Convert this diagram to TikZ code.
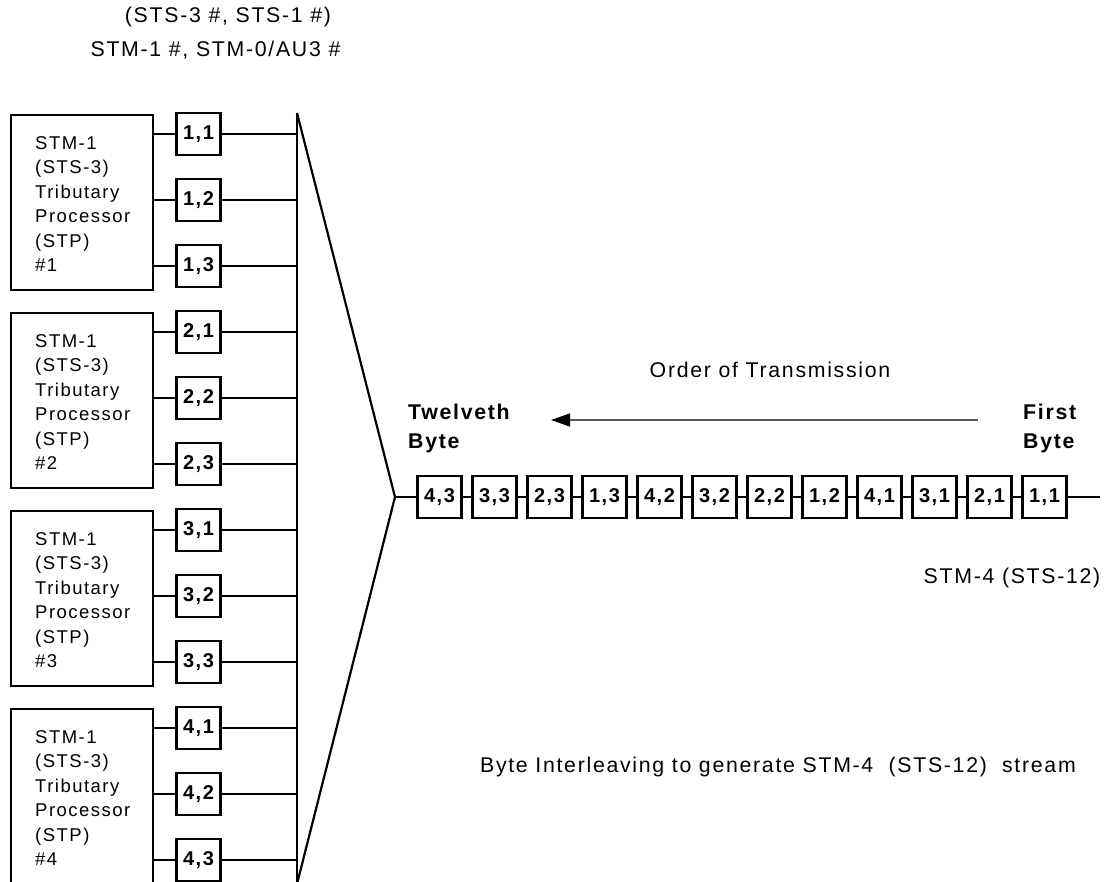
\documentclass[tikz,border=0pt]{standalone}
\usepackage{fontspec}
\setmainfont{Liberation Sans}[LetterSpace=8]
\usetikzlibrary{arrows.meta}
\begin{document}
\begin{tikzpicture}[x=1pt,y=-1pt,
  stpbox/.style={draw,line width=2.2pt,minimum width=142pt,minimum height=175pt,anchor=north west,inner sep=0pt},
  bytebox/.style={draw,line width=2.4pt,minimum width=44pt,minimum height=42pt,inner sep=0pt,font=\bfseries\fontsize{20}{22}\selectfont},
  wire/.style={line width=2.8pt},
  muxline/.style={line width=2.2pt},
  lbl/.style={font=\fontsize{18.5}{24.5}\selectfont,inner sep=0pt},
  biglbl/.style={font=\fontsize{21.3}{24.5}\selectfont,inner sep=0pt},
  blbl/.style={font=\bfseries\fontsize{21.3}{29}\selectfont,inner sep=0pt,align=left,anchor=west},
  stptext/.style={lbl,align=left,anchor=west}]
\useasboundingbox (0,0) rectangle (1107,882);

% top labels
\node[biglbl] (t1) at (228,17) {(STS-3 \#, STS-1 \#)};
\node[biglbl] (t2) at (215.5,50) {STM-1 \#, STM-0/AU3 \#};

% bus and mux
\coordinate (bustop) at (297,113);
\coordinate (busbot) at (297,884);
\coordinate (apex) at (395,497);
\draw[wire] (bustop) -- (busbot);
\draw[muxline] (bustop) -- (apex) -- (busbot);

% STP groups
\foreach \g in {1,2,3,4}{
  \pgfmathsetmacro{\yo}{198*(\g-1)}
  \node[stpbox] (stp\g) at (10,114+\yo) {};
  \node[stptext] (stpt\g) at (35,204+\yo) {STM-1\\(STS-3)\\Tributary\\Processor\\(STP)\\\#\g};
  \foreach \k in {1,2,3}{
    \pgfmathsetmacro{\yy}{134+66*(\k-1)+\yo}
    \node[bytebox] (b\g\k) at (198.5,\yy) {\g,\k};
    \draw[wire] (stp\g.east |- b\g\k.west) -- (b\g\k.west);
    \draw[wire] (b\g\k.east) -- (b\g\k.east -| bustop);
  }
}

% output stream
\foreach \lab [count=\i] in {{4,3},{3,3},{2,3},{1,3},{4,2},{3,2},{2,2},{1,2},{4,1},{3,1},{2,1},{1,1}}{
  \node[bytebox] (r\i) at (439.5+55*\i-55,497) {\lab};
}
\draw[wire] (apex) -- (r1.west);
\foreach \i [evaluate=\i as \j using int(\i+1)] in {1,...,11}{
  \draw[wire] (r\i.east) -- (r\j.west);
}
\coordinate (out) at (1100,497);
\draw[wire] (r12.east) -- (out);

% labels
\node[blbl] (twelve) at (408,428) {Twelveth\\Byte};
\node[blbl] (first) at (1023,428) {First\\Byte};
\coordinate (arrS) at (978,420);
\coordinate (arrE) at (551,420);
\draw[draw=black!65,line width=1.3pt,-{Triangle[length=19pt,width=13pt,color=black]}] (arrS) -- (arrE);
\node[biglbl] (order) at (770,370) {Order of Transmission};
\node[biglbl] (stm4) at (1012,578) {STM-4 (STS-12)};
\node[biglbl,anchor=east] (inter) at (1076,767) {Byte Interleaving to generate STM-4 \ (STS-12) \ stream};
\end{tikzpicture}
\end{document}
